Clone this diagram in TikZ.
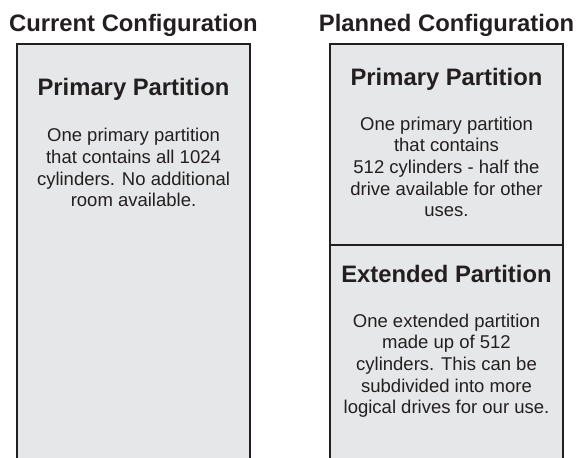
\documentclass[tikz,border=0pt]{standalone}
\usepackage{fontspec}
\setmainfont{Liberation Sans}
\definecolor{ink}{HTML}{231F20}
\definecolor{boxfill}{HTML}{E6E7E8}
\begin{document}
\begin{tikzpicture}[x=1pt,y=-1pt,
  head/.style={font={\fontsize{23.8}{26}\selectfont\bfseries}, text=ink, inner sep=0pt, anchor=base},
  body/.style={font={\fontsize{18.5}{21.7}\selectfont}, text=ink, inner sep=0pt, align=center, anchor=north},
  frame/.style={draw=ink, line width=2pt}]
\useasboundingbox (0,0) rectangle (576,458);
% boxes
\fill[boxfill] (17,44) rectangle (250,458);
\draw[frame] (17,458) -- (17,44) -- (250,44) -- (250,458);
\fill[boxfill] (330,44) rectangle (563,458);
\draw[frame] (330,458) -- (330,44) -- (563,44) -- (563,458);
\draw[frame] (330,245) -- (563,245);
% texts
\node[head] (curT) at (133.5,31) {Current Configuration};
\node[head] (planT) at (446.5,31) {Planned Configuration};
\node[head] (p1T) at (133.5,95) {Primary Partition};
\node[body] (p1B) at (133.5,128) {One primary partition\\that contains all 1024\\cylinders. No additional\\room available.};
\node[head] (p2T) at (446.5,85) {Primary Partition};
\node[body] (p2B) at (446.5,116.5) {One primary partition\\that contains\\512 cylinders - half the\\drive available for other\\uses.};
\node[head] (eT) at (446.5,282) {Extended Partition};
\node[body] (eB) at (446.5,313.5) {One extended partition\\made up of 512\\cylinders. This can be\\subdivided into more\\logical drives for our use.};
\end{tikzpicture}
\end{document}
